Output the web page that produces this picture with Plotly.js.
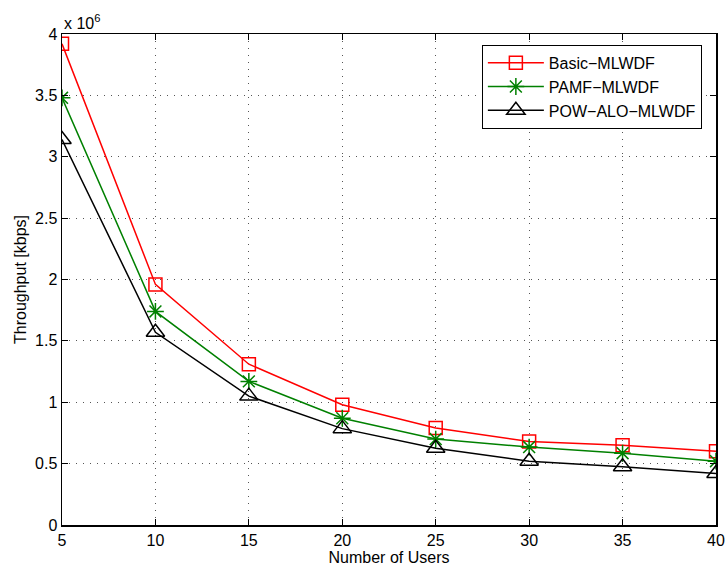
<!DOCTYPE html>
<html><head><meta charset="utf-8">
<script src="https://cdn.plot.ly/plotly-3.0.1.min.js"></script>
<style>body{margin:0;background:#fff}#plot{width:727px;height:571px}</style>
</head><body><div id="plot"></div>
<script>
const users = [5, 10, 15, 20, 25, 30, 35, 40];
const basicMLWDF = [3.92e6, 1.96e6, 1.31e6, 0.98e6, 0.79e6, 0.68e6, 0.65e6, 0.60e6];
const pamfMLWDF = [3.48e6, 1.74e6, 1.17e6, 0.87e6, 0.70e6, 0.635e6, 0.585e6, 0.52e6];
const powAloMLWDF = [3.14e6, 1.57e6, 1.05e6, 0.785e6, 0.625e6, 0.52e6, 0.475e6, 0.42e6];
const yTickVals = [0, 0.5e6, 1e6, 1.5e6, 2e6, 2.5e6, 3e6, 3.5e6, 4e6];
const yTickText = ["0", "0.5", "1", "1.5", "2", "2.5", "3", "3.5", "4"];
const xTickVals = [5, 10, 15, 20, 25, 30, 35, 40];

const font = "Liberation Sans, Arial, sans-serif";
const traces = [
  {x: users, y: basicMLWDF, name: "Basic\u2212MLWDF", mode: "lines+markers",
   line: {color: "#ff0000", width: 1.5},
   marker: {symbol: "square-open", size: 13, color: "#ff0000", line: {width: 1.5}}},
  {x: users, y: pamfMLWDF, name: "PAMF\u2212MLWDF", mode: "lines+markers",
   line: {color: "#008000", width: 1.5},
   marker: {symbol: "asterisk-open", size: 14, color: "#008000", line: {width: 1.5, color: "#008000"}}},
  {x: users, y: powAloMLWDF, name: "POW\u2212ALO\u2212MLWDF", mode: "lines+markers",
   line: {color: "#000000", width: 1.5},
   marker: {symbol: "triangle-up-open", size: 16, color: "#000000", line: {width: 1.5}}}
];
const axisCommon = {
  showline: true, linecolor: "#000", linewidth: 1.5, mirror: "ticks",
  ticks: "inside", ticklen: 6, tickcolor: "#000", tickwidth: 1,
  showgrid: true, gridcolor: "#555", griddash: "1px,6px", gridwidth: 1,
  zeroline: false, tickfont: {family: font, size: 16, color: "#000"},
  automargin: false
};
const layout = {
  width: 727, height: 571,
  margin: {l: 62, r: 11, t: 34, b: 46},
  paper_bgcolor: "#fff", plot_bgcolor: "#fff",
  font: {family: font, color: "#000"},
  xaxis: Object.assign({}, axisCommon, {
    range: [5, 40], tickvals: xTickVals,
    title: {text: "Number of Users", font: {family: font, size: 16}, standoff: 0}
  }),
  yaxis: Object.assign({}, axisCommon, {
    range: [0, 4e6], tickvals: yTickVals, ticktext: yTickText,
    title: {text: "Throughput [kbps]", font: {family: font, size: 16}, standoff: 4}
  }),
  showlegend: true,
  legend: {
    x: 0.642, y: 0.978, xanchor: "left", yanchor: "top",
    bgcolor: "#fff", bordercolor: "#000", borderwidth: 1,
    font: {family: font, size: 16, color: "#000"},
    tracegroupgap: 0, itemwidth: 56
  },
  annotations: [{
    text: "x 10<sup>6</sup>", xref: "paper", yref: "paper", x: 0, y: 1,
    xanchor: "left", yanchor: "bottom", showarrow: false, yshift: 0,
    font: {family: font, size: 16, color: "#000"}
  }]
};
Plotly.newPlot("plot", traces, layout, {displayModeBar: false, staticPlot: true});
</script>
</body></html>
